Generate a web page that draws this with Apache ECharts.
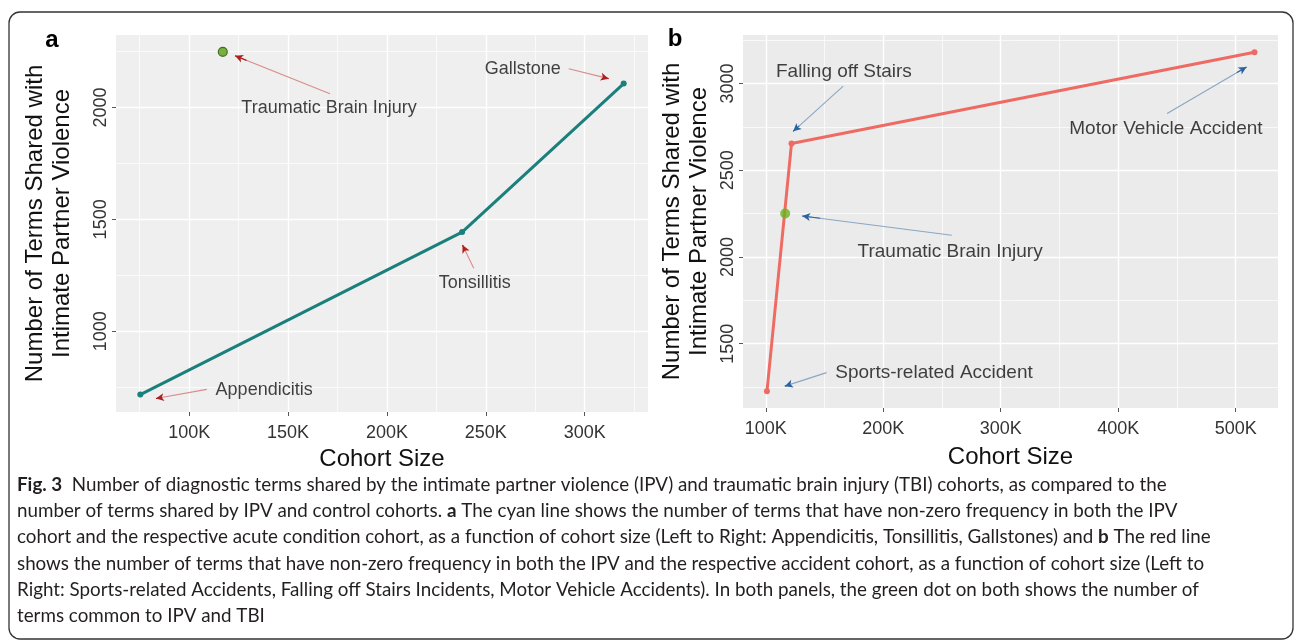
<!DOCTYPE html>
<html>
<head>
<meta charset="utf-8">
<script src="https://cdn.jsdelivr.net/npm/echarts@6/dist/echarts.min.js"></script>
<style>html,body{margin:0;padding:0;background:#fff;}#c{width:1296px;height:642px;}</style>
</head>
<body>
<div id="c"></div>
<script>
// ---- Data ----
const cohortA = [75300, 238000, 319700];
const termsA = [717, 1443, 2107];
const namesA = ['Appendicitis', 'Tonsillitis', 'Gallstone'];
const tbiA = [117000, 2249];

const cohortB = [101000, 121900, 516000];
const termsB = [1225, 2654, 3180];
const namesB = ['Sports-related Accident', 'Falling off Stairs', 'Motor Vehicle Accident'];
const tbiB = [116500, 2250];
const tbiName = 'Traumatic Brain Injury';

const xTicksA = [100000, 150000, 200000, 250000, 300000];
const xMinorA = [75000, 125000, 175000, 225000, 275000, 325000];
const yTicksA = [1000, 1500, 2000];
const yMinorA = [750, 1250, 1750, 2250];
const xTicksB = [100000, 200000, 300000, 400000, 500000];
const xMinorB = [150000, 250000, 350000, 450000];
const yTicksB = [1500, 2000, 2500, 3000];
const yMinorB = [1250, 1750, 2250, 2750, 3250];

// annotation placement (data space): [text x, text y, arrow from x, from y, arrow to x, to y]
const annA = [
  [137900, 736, 108900, 740, 83200, 699],
  [244400, 1215, 243900, 1282, 238200, 1385],
  [268700, 2173, 291900, 2173, 312100, 2129]
];
const annTbiA = [170700, 1998, 171200, 2061, 123200, 2231];
const annB = [
  [243200, 1333, 151700, 1333, 116200, 1255],
  [166500, 3066, 165900, 2984, 123300, 2724],
  [440600, 2740, 441600, 2826, 509200, 3095]
];
const annTbiB = [256900, 2032, 258300, 2125, 131000, 2236];

const captionLines = [
  '{b|Fig. 3}  Number of diagnostic terms shared by the intimate partner violence (IPV) and traumatic brain injury (TBI) cohorts, as compared to the',
  'number of terms shared by IPV and control cohorts. {b|a} The cyan line shows the number of terms that have non-zero frequency in both the IPV',
  'cohort and the respective acute condition cohort, as a function of cohort size (Left to Right: Appendicitis, Tonsillitis, Gallstones) and {b|b} The red line',
  'shows the number of terms that have non-zero frequency in both the IPV and the respective accident cohort, as a function of cohort size (Left to',
  'Right: Sports-related Accidents, Falling off Stairs Incidents, Motor Vehicle Accidents). In both panels, the green dot on both shows the number of',
  'terms common to IPV and TBI'
];

// ---- Styling ----
const FONT = 'Liberation Sans, Arial, sans-serif';
const CAP_FONT = 'Lato, sans-serif';
const CAP_SIZE = 18.8;
const TEAL = '#1B7F7C';
const SALMON = '#EE6B64';
const GREEN = '#5B9F14';
const fmtK = v => (v / 1000) + 'K';
const fmtN = v => String(v);

function mainX(grid, min, max, ticks, gap) {
  return {
    type: 'value', gridIndex: grid, min: min, max: max, position: 'bottom',
    axisLine: { show: false },
    axisTick: { show: true, length: 4, customValues: ticks, lineStyle: { color: '#555', width: 1 } },
    axisLabel: { customValues: ticks, formatter: fmtK, fontSize: 18, color: '#333', margin: 12, fontFamily: FONT },
    splitLine: { show: true, lineStyle: { color: '#ffffff', width: 1.4 } },
    name: 'Cohort Size', nameLocation: 'middle', nameGap: gap,
    nameTextStyle: { fontSize: 24, color: '#111', fontFamily: FONT }
  };
}
function minorAxis(type, grid, min, max, ticks) {
  return {
    type: 'value', gridIndex: grid, min: min, max: max,
    position: type === 'x' ? 'top' : 'right',
    axisLine: { show: false },
    axisTick: { show: false, customValues: ticks },
    axisLabel: { show: false, customValues: ticks },
    splitLine: { show: true, lineStyle: { color: '#ffffff', width: 0.7 } }
  };
}
function mainY(grid, min, max, ticks, gap) {
  return {
    type: 'value', gridIndex: grid, min: min, max: max, position: 'left',
    axisLine: { show: false },
    axisTick: { show: true, length: 4, customValues: ticks, lineStyle: { color: '#555', width: 1 } },
    axisLabel: { customValues: ticks, formatter: fmtN, rotate: 90, fontSize: 18, color: '#333', margin: 6, fontFamily: FONT },
    splitLine: { show: true, lineStyle: { color: '#ffffff', width: 1.4 } },
    name: 'Number of Terms Shared with\nIntimate Partner Violence', nameLocation: 'middle', nameGap: gap,
    nameTextStyle: { fontSize: 24, lineHeight: 27, color: '#111', fontFamily: FONT }
  };
}

function annotationSeries(xi, yi, ann, names, tbiAnn, fontSize, lineColor, headColor) {
  const all = ann.map((a, i) => ({ a: a, n: names[i] })).concat([{ a: tbiAnn, n: tbiName }]);
  const texts = all.map(o => ({
    value: [o.a[0], o.a[1]],
    label: { show: true, position: 'inside', formatter: o.n, fontSize: fontSize, color: '#111', fontFamily: FONT }
  }));
  const lines = [];
  all.forEach(o => {
    const a = o.a;
    lines.push([{ coord: [a[2], a[3]], symbol: 'none' }, { coord: [a[4], a[5]], symbol: 'none', lineStyle: { color: lineColor, width: 1.1, type: 'solid' } }]);
    const hx = a[4] - 0.12 * (a[4] - a[2]);
    const hy = a[5] - 0.12 * (a[5] - a[3]);
    lines.push([{ coord: [hx, hy], symbol: 'none' }, { coord: [a[4], a[5]], symbol: 'arrow', symbolSize: [6, 8], lineStyle: { color: headColor, width: 1.1, type: 'solid' } }]);
  });
  return {
    type: 'scatter', xAxisIndex: xi, yAxisIndex: yi, symbolSize: 1,
    itemStyle: { color: 'transparent' }, silent: true, z: 5,
    data: texts,
    markLine: {
      silent: true, animation: false, symbol: ['none', 'none'],
      label: { show: false },
      lineStyle: { color: lineColor, width: 1.1, type: 'solid' },
      emphasis: { disabled: true },
      data: lines
    }
  };
}

const chart = echarts.init(document.getElementById('c'));
const option = {
  animation: false,
  backgroundColor: '#ffffff',
  grid: [
    { left: 116, right: 648, top: 35, bottom: 230, show: true, backgroundColor: '#EFEFEF', borderWidth: 0 },
    { left: 743, right: 18, top: 35, bottom: 234, show: true, backgroundColor: '#EBEBEB', borderWidth: 0 }
  ],
  xAxis: [
    mainX(0, 63000, 332000, xTicksA, 34),
    minorAxis('x', 0, 63000, 332000, xMinorA),
    mainX(1, 80600, 536000, xTicksB, 37),
    minorAxis('x', 1, 80600, 536000, xMinorB)
  ],
  yAxis: [
    mainY(0, 639, 2324, yTicksA, 40),
    minorAxis('y', 0, 639, 2324, yMinorA),
    mainY(1, 1129, 3279, yTicksB, 30),
    minorAxis('y', 1, 1129, 3279, yMinorB)
  ],
  series: [
    {
      type: 'line', xAxisIndex: 0, yAxisIndex: 0,
      data: cohortA.map((x, i) => [x, termsA[i]]),
      lineStyle: { color: TEAL, width: 3 }, itemStyle: { color: TEAL },
      symbol: 'circle', symbolSize: 6, showSymbol: true, z: 3
    },
    {
      type: 'scatter', xAxisIndex: 0, yAxisIndex: 0, data: [tbiA],
      symbolSize: 9, itemStyle: { color: GREEN, borderColor: '#2E5508', borderWidth: 1.2 }, z: 4
    },
    annotationSeries(0, 0, annA, namesA, annTbiA, 18, '#D98B8B', '#B01E1E'),
    {
      type: 'line', xAxisIndex: 2, yAxisIndex: 2,
      data: cohortB.map((x, i) => [x, termsB[i]]),
      lineStyle: { color: SALMON, width: 3 }, itemStyle: { color: SALMON },
      symbol: 'circle', symbolSize: 6, showSymbol: true, z: 3
    },
    {
      type: 'scatter', xAxisIndex: 2, yAxisIndex: 2, data: [tbiB],
      symbolSize: 10, itemStyle: { color: '#6DB31C', borderColor: '#6DB31C', borderWidth: 0 }, z: 4
    },
    annotationSeries(2, 2, annB, namesB, annTbiB, 19, '#8AA6C4', '#2A64A0')
  ],
  graphic: [
    { type: 'rect', shape: { x: 9, y: 12, width: 1284, height: 627, r: 11 }, style: { fill: 'none', stroke: '#333', lineWidth: 1.3 }, silent: true, z: 0 },
    { type: 'text', x: 52, y: 40, style: { text: 'a', fontSize: 24, fontWeight: 'bold', fontFamily: FONT, fill: '#000', align: 'center', verticalAlign: 'middle' } },
    { type: 'text', x: 675, y: 39, style: { text: 'b', fontSize: 24, fontWeight: 'bold', fontFamily: FONT, fill: '#000', align: 'center', verticalAlign: 'middle' } }
  ].concat(captionLines.map((t, i) => ({
    type: 'text', x: 17, y: 485 + i * 26.2,
    style: {
      text: t, fontSize: CAP_SIZE, fontFamily: CAP_FONT, fill: '#231F20', align: 'left', verticalAlign: 'middle',
      rich: { b: { fontWeight: 'bold', fontSize: CAP_SIZE, fontFamily: CAP_FONT, fill: '#231F20' } }
    }
  })))
};
chart.setOption(option);
</script>
</body>
</html>
